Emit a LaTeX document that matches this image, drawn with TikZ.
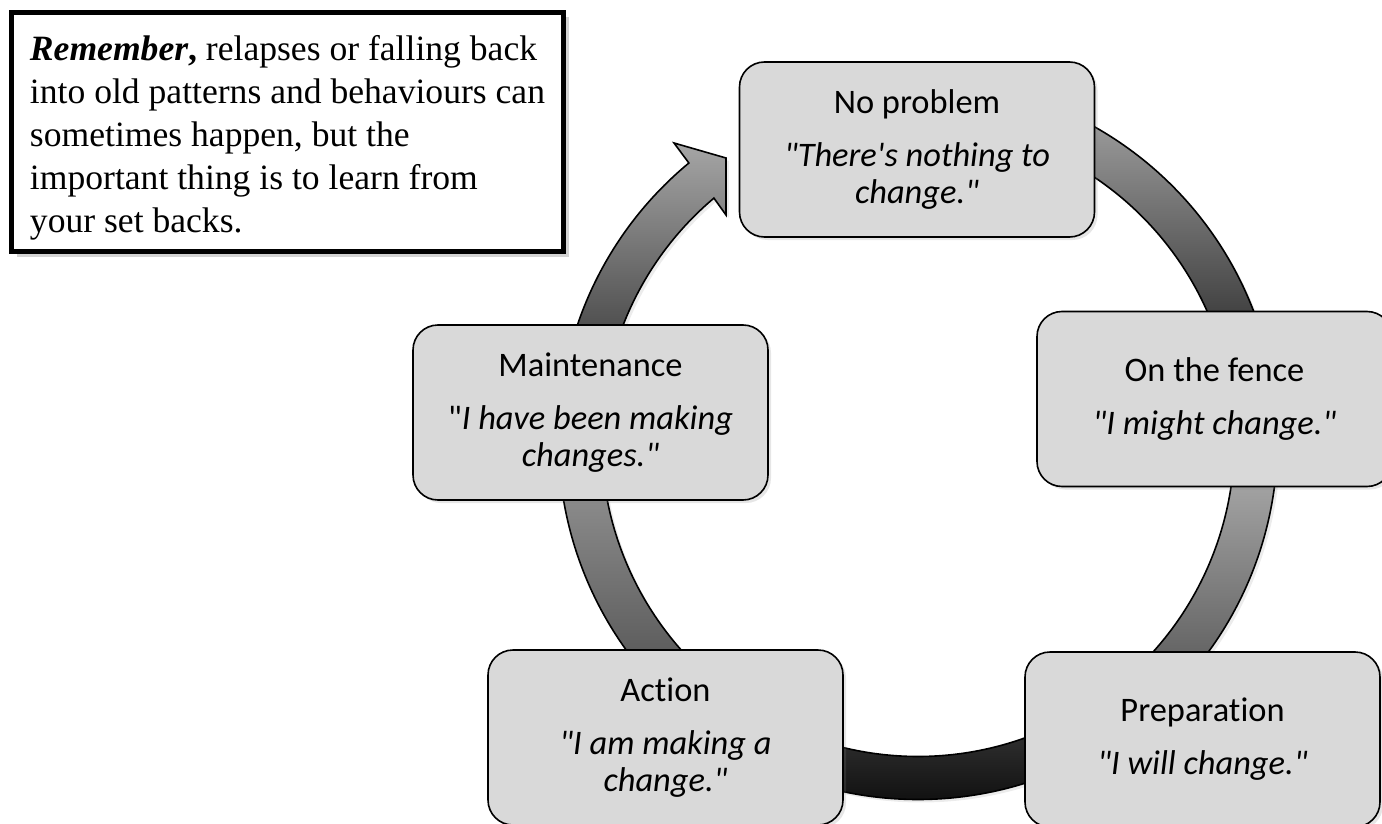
\documentclass[tikz,border=0pt]{standalone}
\usepackage{fontspec}
\setmainfont{Liberation Serif}
\newfontfamily\stagefont{Carlito}[Ligatures=NoCommon]
\usetikzlibrary{shadows}

\begin{document}
\begin{tikzpicture}[
          x=0.5pt, y=0.5pt,
          stage/.style={draw=black, line width=0.8pt, fill=black!15, rounded corners=12.5pt,
                        minimum width=177.5pt, minimum height=87.5pt, align=center, inner sep=0pt,
                        font=\stagefont\fontsize{17.2}{18.5}\selectfont,
                        drop shadow={opacity=0.2, shadow xshift=1.5pt, shadow yshift=-1.5pt}},
          ring/.style={draw=black, line width=0.8pt,
                       drop shadow={opacity=0.15, shadow xshift=1.5pt, shadow yshift=-1.5pt}},
          note/.style={draw=black, line width=2.5pt, fill=white, align=left, inner sep=0pt,
                       minimum width=276pt, minimum height=119.5pt,
                       font=\fontsize{17.8}{21.5}\selectfont,
                       drop shadow={opacity=0.35, shadow xshift=2.5pt, shadow yshift=-2.5pt}}
        ]
        \useasboundingbox (0,0) rectangle (1382,-824);
        \coordinate (c) at (918,-440);
        % ring pieces, clockwise from the top
        \shade[ring, top color=black!33, bottom color=black!82]
          ([shift={(c)}]80:359.5) arc[start angle=80, end angle=15, radius=359.5]
          -- ([shift={(c)}]15:316.5) arc[start angle=15, end angle=80, radius=316.5] -- cycle;
        \shade[ring, top color=black!30, bottom color=black!66]
          ([shift={(c)}]0:359.5) arc[start angle=0, end angle=-45, radius=359.5]
          -- ([shift={(c)}]-45:316.5) arc[start angle=-45, end angle=0, radius=316.5] -- cycle;
        \shade[ring, top color=black!78, bottom color=black!96]
          ([shift={(c)}]-60:359.5) arc[start angle=-60, end angle=-120, radius=359.5]
          -- ([shift={(c)}]-120:316.5) arc[start angle=-120, end angle=-60, radius=316.5] -- cycle;
        \shade[ring, top color=black!32, bottom color=black!68]
          ([shift={(c)}]225:359.5) arc[start angle=225, end angle=170, radius=359.5]
          -- ([shift={(c)}]170:316.5) arc[start angle=170, end angle=225, radius=316.5] -- cycle;
        \shade[ring, top color=black!35, bottom color=black!95]
          ([shift={(c)}]185:359.5) arc[start angle=185, end angle=129.6, radius=359.5]
          -- (674,-143) coordinate (barb) -- (726,-158) coordinate (tip) -- (726,-215)
          -- ([shift={(c)}]130.15:316.5) arc[start angle=130.15, end angle=185, radius=316.5] -- cycle;
        % stages
        \node[stage] (noprob) at (917,-149.5) {No problem\\[8pt]\textit{"There\textquotesingle s nothing to}\\\textit{change."}};
        \node[stage] (fence) at (1214.5,-399) {On the fence\\[8pt]\textit{"I might change."}};
        \node[stage] (prep) at (1202.5,-739.5) {Preparation\\[8pt]\textit{"I will change."}};
        \node[stage] (action) at (665.5,-737.5) {Action\\[8pt]\textit{"I am making a}\\\textit{change."}};
        \node[stage] (maint) at (590.5,-412.5) {Maintenance\\[8pt]"\textit{I have been making}\\\textit{changes."}};
        % reminder
        \node[note] (remember) at (287.5,-132) {\rule{0pt}{18pt}\textbf{\textit{Remember},} relapses or falling back\\into old patterns and behaviours can\\sometimes happen, but the\\important thing is to learn from\\your set backs.};
      \end{tikzpicture}
\end{document}
